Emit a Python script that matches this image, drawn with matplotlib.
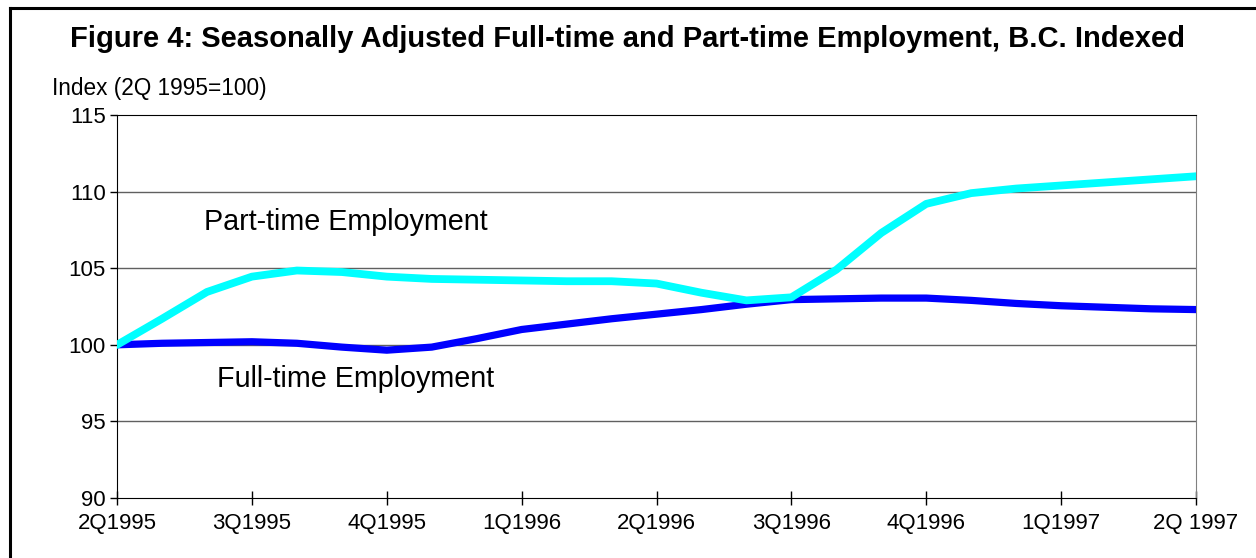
import matplotlib
matplotlib.use("Agg")
from matplotlib import pyplot as plt
from matplotlib.lines import Line2D

plt.rcParams['font.family'] = ['Liberation Sans', 'DejaVu Sans']

# quarter labels on the x axis
quarters = ['2Q1995', '3Q1995', '4Q1995', '1Q1996', '2Q1996',
            '3Q1996', '4Q1996', '1Q1997', '2Q 1997']

# monthly index values, 2Q 1995 = 100
part_time = [100.0, 101.7, 103.45, 104.45, 104.85, 104.75, 104.45, 104.3,
             104.25, 104.2, 104.15, 104.15, 104.0, 103.4, 102.9, 103.1,
             104.9, 107.3, 109.2, 109.9, 110.2, 110.4, 110.6, 110.8, 111.0]
full_time = [100.0, 100.1, 100.15, 100.2, 100.1, 99.85, 99.65, 99.85,
             100.4, 101.0, 101.35, 101.7, 102.0, 102.3, 102.65, 102.95,
             103.0, 103.05, 103.05, 102.9, 102.7, 102.55, 102.45, 102.35,
             102.3]

# x position of each month in quarter units
months = [i / 3 for i in range(len(part_time))]

fig = plt.figure(figsize=(12.56, 5.58), dpi=100)
ax = fig.add_axes([0.0932, 0.1075, 0.859, 0.6864])

# grid lines behind the data
for y in [95, 100, 105, 110]:
    ax.axhline(y, color='#606060', lw=1.0, zorder=1)

ax.plot(months, full_time, color='#0000ff', lw=5.2, solid_capstyle='round', zorder=3)
ax.plot(months, part_time, color='#00ffff', lw=5.6, solid_capstyle='round', zorder=4)

ax.set_xlim(0, 8)
ax.set_ylim(90, 115)
ax.set_xticks(range(len(quarters)))
ax.set_xticklabels(quarters)
ax.set_yticks([90, 95, 100, 105, 110, 115])

ax.tick_params(axis='y', direction='out', length=5, width=1, pad=3, labelsize=16)
ax.tick_params(axis='x', direction='inout', length=10, width=1, pad=6, labelsize=16)

ax.spines['right'].set_color('#808080')
for s in ['left', 'bottom', 'top']:
    ax.spines[s].set_color('black')

# series labels written on the plot area
ax.text(1.93 / 3, 108.0, 'Part-time Employment', fontsize=20.7, va='center')
ax.text(2.22 / 3, 97.8, 'Full-time Employment', fontsize=20.7, va='center')

fig.text(0.5, 1 - 39 / 558, 'Figure 4: Seasonally Adjusted Full-time and Part-time '
         'Employment, B.C. Indexed', fontsize=21, fontweight='bold',
         ha='center', va='center')
fig.text(52 / 1256, 1 - 89 / 558, 'Index (2Q 1995=100)', fontsize=16.3,
         ha='left', va='center')

# frame around the figure (right and bottom edges run off the picture)
fig.add_artist(Line2D([10 / 1256, 10 / 1256], [0, 1 - 8 / 558], color='black', lw=2.2))
fig.add_artist(Line2D([10 / 1256, 1], [1 - 8 / 558, 1 - 8 / 558], color='black', lw=2.2))

plt.savefig('out.png', dpi=100)
